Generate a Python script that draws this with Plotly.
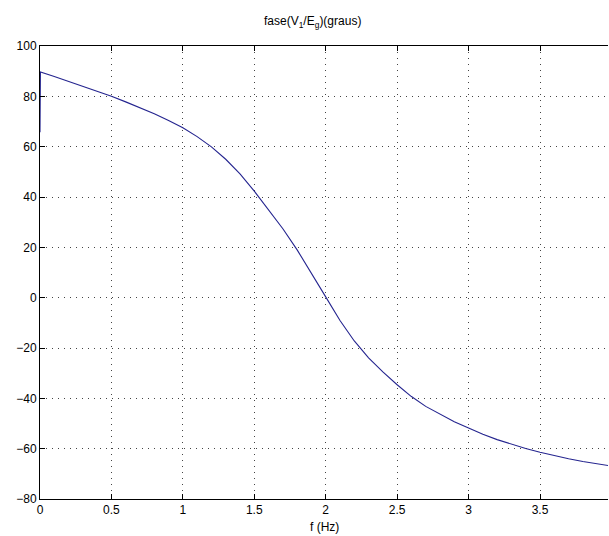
import plotly.graph_objects as go

# Data
freq_hz = [0.0, 0.003, 0.1, 0.2, 0.3, 0.4, 0.5, 0.6, 0.7, 0.8, 0.9, 1.0,
           1.1, 1.2, 1.3, 1.4, 1.5, 1.6, 1.7, 1.8, 1.9, 2.0,
           2.1, 2.2, 2.3, 2.4, 2.5, 2.6, 2.7, 2.8, 2.9, 3.0,
           3.1, 3.2, 3.3, 3.4, 3.5, 3.6, 3.7, 3.8, 3.9, 3.98]
phase_deg = [65.7, 89.7, 87.9, 86.0, 84.0, 82.1, 80.0, 77.8, 75.5, 73.1, 70.4, 67.5,
             64.0, 59.9, 55.0, 49.2, 42.3, 35.0, 27.4, 19.0, 9.9, 0.3,
             -9.1, -17.2, -23.9, -29.5, -34.6, -39.3, -43.2, -46.4, -49.3, -51.8,
             -54.3, -56.4, -58.3, -59.9, -61.4, -62.8, -64.0, -65.1, -66.0, -66.7]

x_ticks = [0, 0.5, 1, 1.5, 2, 2.5, 3, 3.5]
x_tick_labels = ["0", "0.5", "1", "1.5", "2", "2.5", "3", "3.5"]
y_ticks = [-80, -60, -40, -20, 0, 20, 40, 60, 80, 100]

font_family = "Liberation Sans, Arial, sans-serif"

fig = go.Figure()
fig.add_trace(go.Scatter(x=freq_hz, y=phase_deg, mode="lines",
                         line=dict(color="#24248f", width=1.1),
                         showlegend=False, hoverinfo="skip"))

fig.update_layout(
    width=609, height=536,
    margin=dict(l=40, r=1, t=46, b=37),
    paper_bgcolor="white", plot_bgcolor="white",
    font=dict(family=font_family, size=12, color="black"),
    annotations=[
        dict(text="fase(V<sub>1</sub>/E<sub>g</sub>)(graus)", xref="paper", yref="paper",
             x=0.48, y=1, yshift=14, showarrow=False, xanchor="center", yanchor="bottom",
             font=dict(family=font_family, size=12, color="black")),
        dict(text="f (Hz)", xref="paper", yref="paper",
             x=0.5, y=0, yshift=-19, showarrow=False, xanchor="center", yanchor="top",
             font=dict(family=font_family, size=12, color="black")),
    ],
)

fig.update_xaxes(
    range=[0, 3.976], tickvals=x_ticks, ticktext=x_tick_labels,
    showline=True, linecolor="black", linewidth=1, mirror="ticks",
    ticks="inside", ticklen=5, tickcolor="black",
    showgrid=True, gridcolor="#444", gridwidth=1, griddash="1px,5px",
    zeroline=False,
)
fig.update_yaxes(
    range=[-80, 100], tickvals=y_ticks,
    showline=True, linecolor="black", linewidth=1, mirror=False,
    ticks="inside", ticklen=5, tickcolor="black",
    showgrid=True, gridcolor="#444", gridwidth=1, griddash="1px,5px",
    zeroline=False,
)

fig.write_html(
    "out.html",
    config={"displayModeBar": False},
    post_script="document.body.style.margin='0';document.body.style.padding='0';"
                "document.body.style.overflow='hidden';",
)
